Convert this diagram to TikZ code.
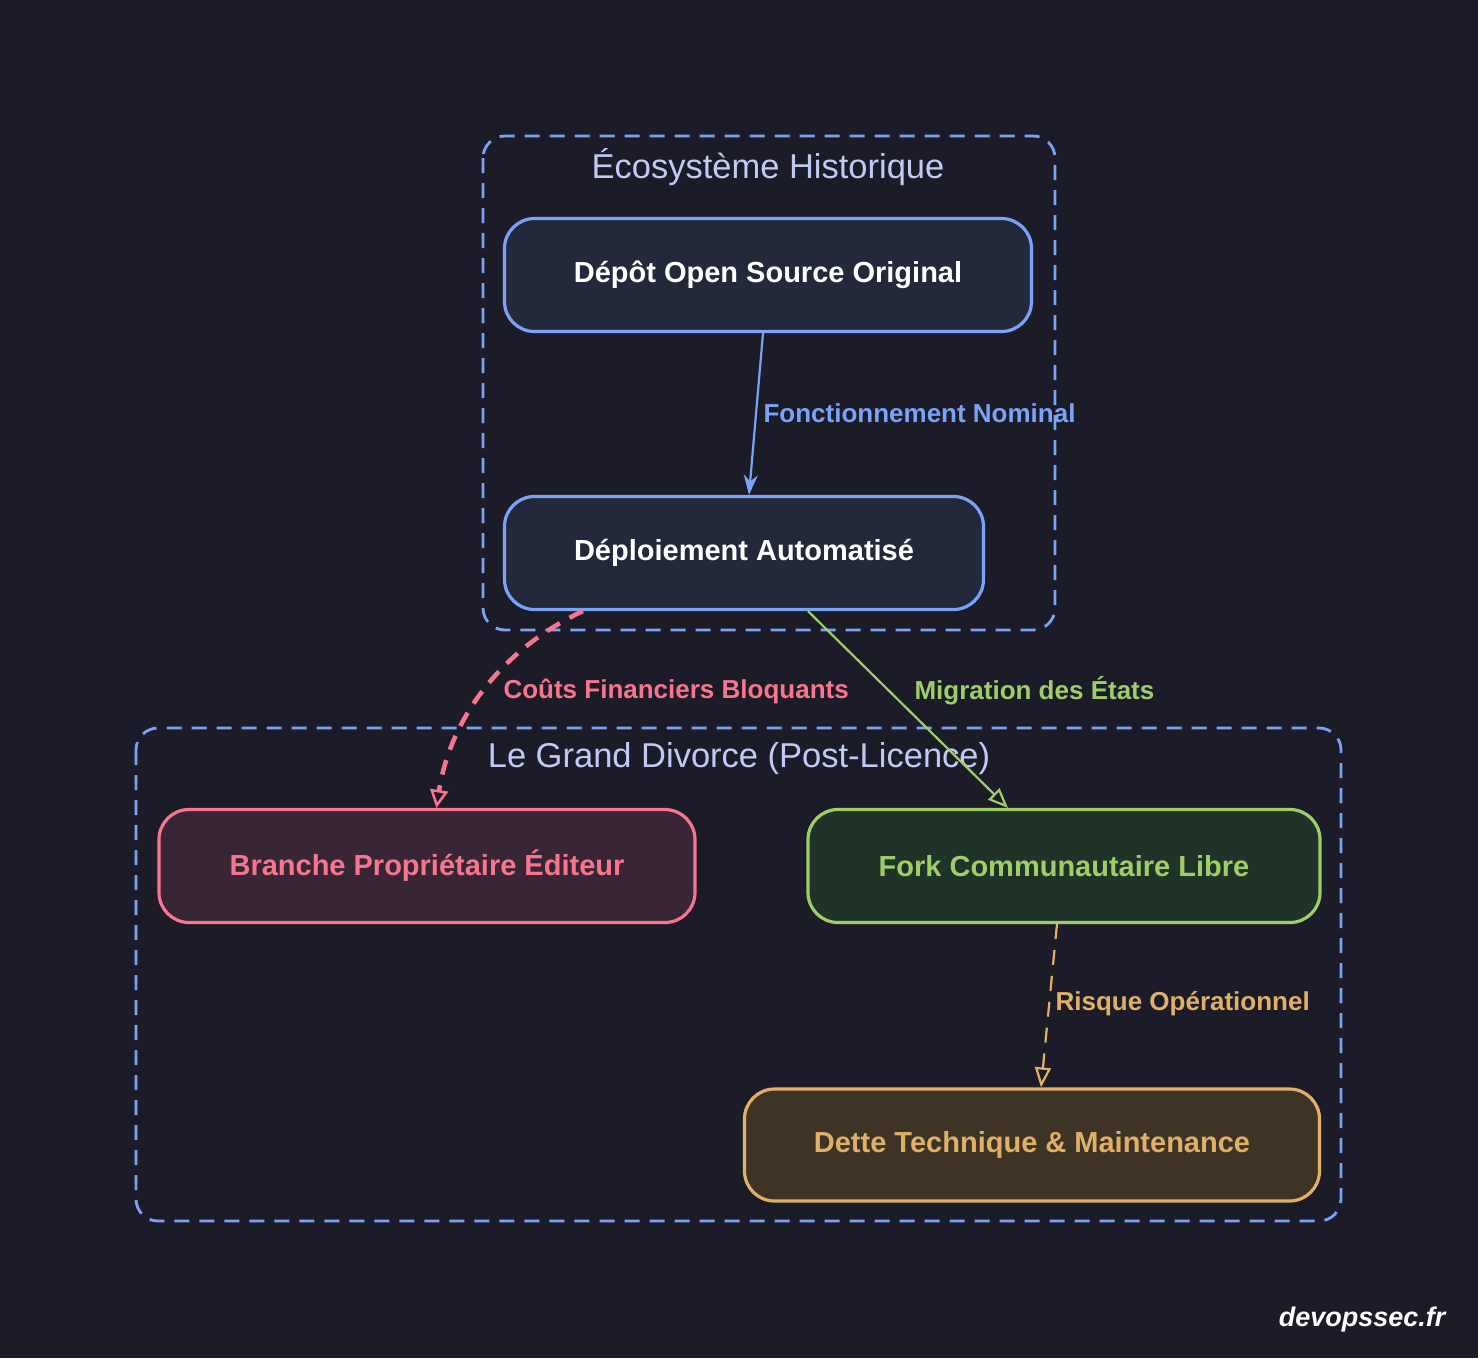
\documentclass[tikz,border=0pt]{standalone}
\usepackage{fontspec}
\setmainfont{Liberation Sans}
\usetikzlibrary{arrows.meta}
\definecolor{bg}{HTML}{1C1C28}
\definecolor{blu}{HTML}{7AA2F7}
\definecolor{ttl}{HTML}{C0CAF5}
\definecolor{pnk}{HTML}{F7768E}
\definecolor{grn}{HTML}{9ECE6A}
\definecolor{org}{HTML}{E0AF68}
\definecolor{fA}{HTML}{24283B}
\definecolor{fC}{HTML}{382636}
\definecolor{fD}{HTML}{1F3329}
\definecolor{fE}{HTML}{3D3426}
\begin{document}
\begin{tikzpicture}[x=1pt,y=-1pt,
  cl/.style={draw=blu,line width=2.8pt,dash pattern=on 15pt off 10pt,rounded corners=22pt},
  ct/.style={text=ttl,font=\fontsize{34.5}{38}\selectfont},
  nd/.style={draw=#1,line width=3.2pt,rounded corners=30pt,inner sep=0pt,font=\bfseries\fontsize{29}{34}\selectfont},
  el/.style={anchor=west,font=\bfseries\fontsize{26}{30}\selectfont,text=#1}]
\fill[bg] (0,0) rectangle (1478,1358);
\useasboundingbox (0,0) rectangle (1478,1358);
\draw[cl] (483,136) rectangle (1055,630);
\draw[cl] (136,728) rectangle (1341,1221);
\node[ct] (t1) at (768,167) {Écosystème Historique};
\node[ct] (t2) at (739,759) {Le Grand Divorce (Post-Licence)};
\node[nd=blu,fill=fA,text=white,minimum width=527pt,minimum height=113pt] (A) at (768,275) {Dépôt Open Source Original};
\node[nd=blu,fill=fA,text=white,minimum width=479pt,minimum height=113pt] (B) at (744,553) {Déploiement Automatisé};
\node[nd=pnk,fill=fC,text=pnk,minimum width=536pt,minimum height=113pt] (C) at (427,866) {Branche Propriétaire Éditeur};
\node[nd=grn,fill=fD,text=grn,minimum width=512pt,minimum height=113pt] (D) at (1064,866) {Fork Communautaire Libre};
\node[nd=org,fill=fE,text=org,minimum width=575pt,minimum height=112pt] (E) at (1032,1145) {Dette Technique \& Maintenance};
\draw[blu,line width=2.2pt,-{Stealth[length=20pt,width=14pt]}] ([xshift=-5pt]A.south) -- ([xshift=5pt]B.north);
\node[el=blu] (l1) at (760,413) {Fonctionnement Nominal};
\draw[pnk,line width=4.5pt,dash pattern=on 15pt off 11pt,-{Triangle[length=18pt,width=18pt,open,line width=2.5pt]}] ([xshift=80pt]B.south west) .. controls (500,650) and (450,720) .. ([xshift=279pt]C.north west);
\node[el=pnk] (l2) at (500,691) {Coûts Financiers Bloquants};
\draw[grn,line width=2.2pt,-{Triangle[length=20pt,width=16pt,open]}] ([xshift=64pt]B.south) -- ([xshift=-56pt]D.north);
\node[el=grn] (l3) at (911,691) {Migration des États};
\draw[org,line width=2.2pt,dash pattern=on 15pt off 11pt,-{Triangle[length=20pt,width=16pt,open,line width=2.2pt]}] ([xshift=-7pt]D.south) -- ([xshift=9pt]E.north);
\node[el=org] (l4) at (1052,1004) {Risque Opérationnel};
\node[anchor=east,text=white,font=\bfseries\itshape\fontsize{27}{30}\selectfont] (wm) at (1449,1320) {devopssec.fr};
\end{tikzpicture}
\end{document}
